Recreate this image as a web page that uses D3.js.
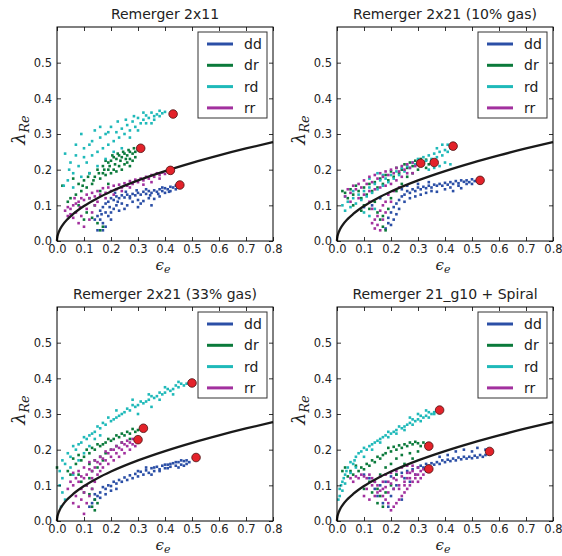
<!DOCTYPE html>
<html><head><meta charset="utf-8">
<script src="https://cdn.jsdelivr.net/npm/d3@7"></script>
<style>
body{margin:0;background:#fff;}
svg{display:block;font-family:"DejaVu Sans",sans-serif;}
</style></head><body>
<svg id="chart" width="562" height="556"></svg>
<script>
// ---------- data ----------
const titles = ["Remerger 2x11", "Remerger 2x21 (10% gas)", "Remerger 2x21 (33% gas)", "Remerger 21_g10 + Spiral"];
const seriesNames = ["dd", "dr", "rd", "rr"];
const seriesColors = ["#2b4fa6", "#0b7a3b", "#1fb9b9", "#a2309e"];
const xTicks = [0.0, 0.1, 0.2, 0.3, 0.4, 0.5, 0.6, 0.7, 0.8];
const yTicks = [0.0, 0.1, 0.2, 0.3, 0.4, 0.5];

// boundary curve (epsilon, lambda)
const curveEps = [0, 0.0002, 0.001, 0.003, 0.006, 0.01, 0.02, 0.04, 0.06, 0.1, 0.15, 0.2, 0.3, 0.4, 0.5, 0.6, 0.7, 0.8];
const curveLam = [0, 0.0044, 0.0098, 0.0170, 0.0240, 0.031, 0.0438, 0.062, 0.0759, 0.098, 0.120, 0.1386, 0.1698, 0.196, 0.2192, 0.2401, 0.2594, 0.2773];

// end points (red) per panel, order dd, dr, rd, rr
const endEps = [[0.455, 0.31, 0.43, 0.42], [0.53, 0.36, 0.43, 0.31], [0.515, 0.32, 0.50, 0.30], [0.565, 0.34, 0.38, 0.34]];
const endLam = [[0.157, 0.260, 0.356, 0.198], [0.170, 0.220, 0.266, 0.218], [0.178, 0.260, 0.387, 0.228], [0.195, 0.210, 0.311, 0.146]];

// Panel 1: Remerger 2x11
const p1_dd = [[0.44,0.155],[0.43,0.15],[0.42,0.152],[0.41,0.145],[0.40,0.148],[0.39,0.14],[0.38,0.145],[0.37,0.138],[0.36,0.142],[0.35,0.135],[0.34,0.14],[0.33,0.132],[0.32,0.138],[0.31,0.13],[0.30,0.135],[0.29,0.128],[0.28,0.132],[0.27,0.125],[0.26,0.13],[0.25,0.122],[0.24,0.128],[0.23,0.12],[0.22,0.125],[0.21,0.115],[0.20,0.12],[0.19,0.11],[0.18,0.105],[0.17,0.095],[0.16,0.085],[0.15,0.07],[0.16,0.06],[0.17,0.05],[0.18,0.04],[0.15,0.03],[0.17,0.03],[0.19,0.07],[0.20,0.08],[0.21,0.09],[0.22,0.10],[0.24,0.105],[0.26,0.10],[0.28,0.11],[0.30,0.115],[0.32,0.112],[0.34,0.12],[0.36,0.118],[0.38,0.125],[0.40,0.135],[0.42,0.14],[0.44,0.145],[0.23,0.085],[0.25,0.09],[0.20,0.06],[0.18,0.08],[0.14,0.06],[0.35,0.10],[0.30,0.095],[0.27,0.12],[0.33,0.145],[0.39,0.15],[0.215,0.135],[0.255,0.138],[0.295,0.142],[0.345,0.128],[0.375,0.132],[0.415,0.138],[0.195,0.095],[0.165,0.075],[0.225,0.11],[0.31,0.105]];
const p1_dr = [[0.30,0.255],[0.29,0.25],[0.28,0.245],[0.27,0.25],[0.26,0.24],[0.25,0.245],[0.24,0.235],[0.23,0.24],[0.22,0.23],[0.21,0.235],[0.20,0.225],[0.19,0.22],[0.18,0.225],[0.17,0.21],[0.29,0.235],[0.28,0.225],[0.27,0.23],[0.26,0.22],[0.25,0.215],[0.24,0.20],[0.23,0.21],[0.22,0.195],[0.21,0.20],[0.20,0.19],[0.19,0.20],[0.18,0.185],[0.17,0.19],[0.16,0.175],[0.15,0.20],[0.14,0.18],[0.13,0.16],[0.12,0.19],[0.11,0.15],[0.10,0.17],[0.09,0.14],[0.08,0.16],[0.07,0.13],[0.06,0.175],[0.05,0.12],[0.04,0.11],[0.02,0.155],[0.12,0.12],[0.14,0.10],[0.11,0.08],[0.13,0.065],[0.15,0.05],[0.16,0.03],[0.17,0.04],[0.10,0.06],[0.27,0.21],[0.285,0.26],[0.265,0.255],[0.245,0.25],[0.225,0.245],[0.205,0.24],[0.16,0.14],[0.19,0.16],[0.08,0.10],[0.215,0.215],[0.235,0.225],[0.255,0.23],[0.195,0.21],[0.175,0.2],[0.155,0.19],[0.135,0.17],[0.115,0.18],[0.095,0.155]];
const p1_rd = [[0.40,0.362],[0.39,0.358],[0.38,0.365],[0.37,0.355],[0.36,0.350],[0.35,0.36],[0.34,0.345],[0.33,0.352],[0.32,0.34],[0.31,0.33],[0.30,0.345],[0.29,0.32],[0.28,0.335],[0.27,0.31],[0.26,0.325],[0.25,0.30],[0.24,0.315],[0.23,0.29],[0.22,0.305],[0.21,0.28],[0.20,0.32],[0.19,0.27],[0.18,0.30],[0.17,0.26],[0.16,0.29],[0.15,0.25],[0.14,0.31],[0.13,0.24],[0.12,0.27],[0.11,0.22],[0.10,0.26],[0.09,0.30],[0.08,0.21],[0.07,0.24],[0.06,0.19],[0.05,0.22],[0.04,0.17],[0.03,0.245],[0.025,0.155],[0.06,0.15],[0.09,0.18],[0.12,0.19],[0.15,0.21],[0.18,0.23],[0.21,0.25],[0.24,0.26],[0.27,0.29],[0.30,0.31],[0.33,0.33],[0.36,0.34],[0.38,0.35],[0.35,0.33],[0.32,0.36],[0.285,0.35],[0.255,0.34],[0.225,0.335],[0.19,0.305],[0.16,0.32],[0.13,0.28],[0.10,0.235],[0.07,0.27],[0.045,0.2]];
const p1_rr = [[0.41,0.195],[0.40,0.188],[0.39,0.192],[0.38,0.185],[0.37,0.19],[0.36,0.18],[0.35,0.185],[0.34,0.175],[0.33,0.18],[0.32,0.17],[0.31,0.175],[0.30,0.165],[0.29,0.172],[0.28,0.16],[0.27,0.168],[0.26,0.155],[0.25,0.162],[0.24,0.15],[0.23,0.158],[0.22,0.145],[0.21,0.155],[0.20,0.14],[0.19,0.15],[0.18,0.135],[0.17,0.148],[0.16,0.13],[0.15,0.14],[0.14,0.125],[0.13,0.135],[0.12,0.12],[0.11,0.13],[0.10,0.115],[0.09,0.12],[0.08,0.11],[0.07,0.105],[0.06,0.10],[0.05,0.09],[0.04,0.095],[0.03,0.085],[0.04,0.07],[0.06,0.065],[0.07,0.08],[0.08,0.05],[0.09,0.07],[0.10,0.04],[0.11,0.09],[0.12,0.06],[0.13,0.08],[0.14,0.10],[0.15,0.11],[0.35,0.165],[0.32,0.158],[0.38,0.175],[0.27,0.15],[0.24,0.14],[0.21,0.13],[0.18,0.12],[0.085,0.095],[0.065,0.12],[0.05,0.075]];

// Panel 2: Remerger 2x21 (10% gas)
const p2_dd = [[0.52,0.172],[0.51,0.168],[0.50,0.173],[0.49,0.165],[0.48,0.17],[0.47,0.166],[0.46,0.17],[0.45,0.162],[0.44,0.168],[0.43,0.16],[0.42,0.165],[0.41,0.158],[0.40,0.163],[0.39,0.155],[0.38,0.16],[0.37,0.155],[0.36,0.158],[0.35,0.15],[0.34,0.155],[0.33,0.148],[0.32,0.152],[0.31,0.145],[0.30,0.15],[0.29,0.14],[0.28,0.145],[0.27,0.135],[0.26,0.14],[0.25,0.13],[0.24,0.125],[0.23,0.115],[0.22,0.105],[0.21,0.095],[0.20,0.08],[0.19,0.065],[0.19,0.05],[0.18,0.035],[0.20,0.045],[0.21,0.06],[0.22,0.075],[0.23,0.09],[0.25,0.11],[0.27,0.12],[0.29,0.125],[0.31,0.13],[0.33,0.135],[0.35,0.14],[0.37,0.138],[0.40,0.145],[0.42,0.15],[0.45,0.155],[0.48,0.16],[0.50,0.16],[0.30,0.16],[0.34,0.165],[0.26,0.155],[0.24,0.145],[0.10,0.095],[0.13,0.10],[0.16,0.12],[0.43,0.14],[0.46,0.148]];
const p2_dr = [[0.35,0.225],[0.34,0.215],[0.33,0.228],[0.32,0.22],[0.31,0.23],[0.30,0.215],[0.29,0.225],[0.28,0.21],[0.27,0.22],[0.26,0.205],[0.25,0.215],[0.24,0.20],[0.23,0.19],[0.22,0.205],[0.21,0.18],[0.20,0.195],[0.19,0.17],[0.18,0.185],[0.17,0.16],[0.16,0.175],[0.15,0.15],[0.14,0.165],[0.13,0.14],[0.12,0.16],[0.11,0.13],[0.10,0.15],[0.09,0.12],[0.08,0.14],[0.07,0.155],[0.06,0.13],[0.05,0.145],[0.04,0.12],[0.03,0.135],[0.02,0.14],[0.10,0.10],[0.12,0.09],[0.14,0.11],[0.15,0.08],[0.16,0.06],[0.17,0.04],[0.18,0.03],[0.17,0.07],[0.19,0.09],[0.20,0.12],[0.22,0.14],[0.24,0.16],[0.26,0.18],[0.30,0.20],[0.33,0.205],[0.28,0.19],[0.06,0.10],[0.09,0.085]];
const p2_rd = [[0.42,0.26],[0.41,0.25],[0.40,0.255],[0.39,0.24],[0.38,0.25],[0.37,0.235],[0.36,0.245],[0.35,0.23],[0.34,0.24],[0.33,0.225],[0.32,0.235],[0.31,0.22],[0.30,0.23],[0.29,0.215],[0.28,0.22],[0.27,0.205],[0.26,0.21],[0.25,0.195],[0.24,0.205],[0.23,0.185],[0.22,0.195],[0.21,0.175],[0.20,0.185],[0.19,0.165],[0.18,0.175],[0.17,0.155],[0.16,0.17],[0.15,0.145],[0.14,0.16],[0.13,0.135],[0.12,0.15],[0.11,0.125],[0.10,0.14],[0.09,0.115],[0.08,0.13],[0.07,0.105],[0.06,0.12],[0.05,0.095],[0.04,0.11],[0.03,0.085],[0.02,0.10],[0.03,0.125],[0.06,0.14],[0.10,0.08],[0.12,0.07],[0.14,0.09],[0.40,0.22],[0.42,0.215],[0.38,0.21],[0.36,0.205],[0.34,0.20],[0.15,0.19],[0.17,0.185],[0.12,0.175],[0.39,0.27],[0.41,0.27],[0.37,0.26]];
const p2_rr = [[0.30,0.215],[0.29,0.21],[0.28,0.22],[0.27,0.205],[0.26,0.215],[0.25,0.2],[0.24,0.21],[0.23,0.195],[0.22,0.205],[0.21,0.19],[0.20,0.2],[0.19,0.185],[0.18,0.195],[0.17,0.18],[0.16,0.19],[0.15,0.175],[0.14,0.185],[0.13,0.165],[0.12,0.18],[0.11,0.16],[0.10,0.17],[0.09,0.15],[0.08,0.16],[0.07,0.145],[0.06,0.155],[0.05,0.135],[0.04,0.145],[0.03,0.125],[0.05,0.11],[0.08,0.12],[0.10,0.13],[0.12,0.14],[0.14,0.145],[0.16,0.15],[0.18,0.155],[0.20,0.16],[0.22,0.17],[0.24,0.18],[0.26,0.19],[0.28,0.19],[0.19,0.13],[0.18,0.11],[0.17,0.10],[0.16,0.085],[0.15,0.07],[0.14,0.06],[0.15,0.045],[0.16,0.03],[0.14,0.035],[0.13,0.05],[0.17,0.06],[0.18,0.08],[0.20,0.11],[0.21,0.14],[0.23,0.15],[0.13,0.09],[0.12,0.11]];

// Panel 3: Remerger 2x21 (33% gas)
const p3_dd = [[0.49,0.165],[0.48,0.16],[0.47,0.168],[0.46,0.158],[0.45,0.165],[0.44,0.155],[0.43,0.162],[0.42,0.152],[0.41,0.158],[0.40,0.148],[0.39,0.155],[0.38,0.145],[0.37,0.152],[0.36,0.14],[0.35,0.148],[0.34,0.135],[0.33,0.142],[0.32,0.13],[0.31,0.138],[0.30,0.125],[0.29,0.132],[0.28,0.12],[0.27,0.128],[0.26,0.115],[0.25,0.122],[0.24,0.11],[0.23,0.115],[0.22,0.105],[0.21,0.11],[0.20,0.098],[0.19,0.1],[0.18,0.09],[0.17,0.095],[0.16,0.08],[0.15,0.07],[0.14,0.06],[0.13,0.05],[0.12,0.04],[0.14,0.075],[0.16,0.065],[0.18,0.075],[0.20,0.085],[0.22,0.09],[0.48,0.17],[0.46,0.17],[0.44,0.165],[0.42,0.16],[0.40,0.158],[0.36,0.15],[0.33,0.15],[0.30,0.14],[0.35,0.13],[0.38,0.14],[0.41,0.148],[0.45,0.15],[0.47,0.155]];
const p3_dr = [[0.30,0.255],[0.29,0.25],[0.28,0.258],[0.27,0.245],[0.26,0.25],[0.25,0.24],[0.24,0.245],[0.23,0.235],[0.22,0.24],[0.21,0.23],[0.20,0.225],[0.19,0.23],[0.18,0.22],[0.17,0.215],[0.16,0.21],[0.15,0.215],[0.14,0.2],[0.13,0.205],[0.12,0.19],[0.11,0.2],[0.10,0.18],[0.09,0.17],[0.08,0.185],[0.07,0.16],[0.06,0.175],[0.05,0.13],[0.04,0.14],[0.0,0.15],[0.12,0.16],[0.14,0.17],[0.16,0.18],[0.18,0.19],[0.20,0.2],[0.22,0.21],[0.13,0.14],[0.12,0.12],[0.11,0.1],[0.13,0.09],[0.12,0.075],[0.14,0.06],[0.13,0.04],[0.14,0.03],[0.15,0.05],[0.10,0.08],[0.09,0.11],[0.08,0.13],[0.15,0.15],[0.17,0.17],[0.24,0.22],[0.27,0.23]];
const p3_rd = [[0.49,0.39],[0.48,0.385],[0.47,0.38],[0.46,0.385],[0.45,0.375],[0.44,0.38],[0.43,0.37],[0.42,0.365],[0.41,0.37],[0.40,0.36],[0.39,0.355],[0.38,0.36],[0.37,0.35],[0.36,0.345],[0.35,0.35],[0.34,0.34],[0.33,0.335],[0.32,0.33],[0.31,0.335],[0.30,0.325],[0.29,0.32],[0.28,0.325],[0.27,0.31],[0.26,0.315],[0.25,0.305],[0.24,0.3],[0.23,0.295],[0.22,0.29],[0.21,0.285],[0.20,0.28],[0.19,0.29],[0.18,0.27],[0.17,0.275],[0.16,0.26],[0.15,0.265],[0.14,0.25],[0.13,0.245],[0.12,0.24],[0.11,0.23],[0.10,0.235],[0.09,0.22],[0.08,0.215],[0.07,0.2],[0.06,0.21],[0.05,0.18],[0.04,0.19],[0.03,0.16],[0.02,0.17],[0.01,0.14],[0.02,0.12],[0.01,0.1],[0.02,0.08],[0.03,0.06],[0.015,0.04],[0.05,0.15],[0.06,0.13],[0.08,0.17],[0.10,0.19],[0.12,0.21],[0.14,0.23],[0.16,0.24],[0.30,0.3],[0.35,0.32],[0.22,0.31],[0.28,0.34],[0.34,0.355],[0.40,0.375],[0.45,0.39],[0.38,0.34],[0.43,0.355]];
const p3_rr = [[0.29,0.225],[0.28,0.215],[0.27,0.22],[0.26,0.21],[0.25,0.215],[0.24,0.2],[0.23,0.205],[0.22,0.19],[0.21,0.2],[0.20,0.18],[0.19,0.19],[0.18,0.17],[0.17,0.175],[0.16,0.16],[0.15,0.165],[0.14,0.15],[0.13,0.14],[0.12,0.145],[0.11,0.13],[0.10,0.12],[0.09,0.125],[0.08,0.11],[0.07,0.12],[0.06,0.1],[0.05,0.11],[0.04,0.09],[0.06,0.135],[0.08,0.14],[0.10,0.15],[0.12,0.165],[0.14,0.17],[0.16,0.18],[0.18,0.195],[0.20,0.2],[0.22,0.21],[0.24,0.22],[0.26,0.225],[0.28,0.23],[0.27,0.2],[0.25,0.19],[0.23,0.18],[0.21,0.17],[0.19,0.16],[0.17,0.15],[0.15,0.13],[0.13,0.12],[0.11,0.1],[0.10,0.08],[0.09,0.06],[0.08,0.04],[0.10,0.02],[0.11,0.05],[0.12,0.07],[0.07,0.07],[0.06,0.05],[0.13,0.09],[0.09,0.09],[0.14,0.11],[0.16,0.14],[0.29,0.21]];

// Panel 4: Remerger 21_g10 + Spiral
const p4_dd = [[0.55,0.185],[0.54,0.18],[0.53,0.185],[0.52,0.178],[0.51,0.183],[0.50,0.176],[0.49,0.18],[0.48,0.175],[0.47,0.18],[0.46,0.173],[0.45,0.178],[0.44,0.17],[0.43,0.175],[0.42,0.168],[0.41,0.172],[0.40,0.165],[0.39,0.17],[0.38,0.16],[0.37,0.165],[0.36,0.158],[0.35,0.162],[0.34,0.155],[0.33,0.16],[0.32,0.15],[0.31,0.155],[0.30,0.15],[0.28,0.145],[0.26,0.14],[0.24,0.135],[0.22,0.13],[0.20,0.125],[0.55,0.2],[0.52,0.205],[0.50,0.195],[0.47,0.2],[0.44,0.195],[0.41,0.185],[0.38,0.18],[0.56,0.19],[0.18,0.11],[0.16,0.1],[0.14,0.09],[0.12,0.12],[0.10,0.13],[0.15,0.07],[0.17,0.05],[0.20,0.07],[0.22,0.1],[0.25,0.12],[0.27,0.11],[0.29,0.13],[0.33,0.14],[0.24,0.06],[0.19,0.04],[0.21,0.09]];
const p4_dr = [[0.33,0.215],[0.32,0.22],[0.31,0.21],[0.30,0.218],[0.29,0.222],[0.28,0.215],[0.27,0.22],[0.26,0.21],[0.25,0.215],[0.24,0.205],[0.23,0.212],[0.22,0.2],[0.21,0.208],[0.20,0.195],[0.19,0.205],[0.18,0.19],[0.17,0.185],[0.16,0.175],[0.15,0.18],[0.14,0.165],[0.13,0.17],[0.12,0.155],[0.11,0.16],[0.10,0.145],[0.09,0.15],[0.08,0.14],[0.07,0.155],[0.06,0.13],[0.05,0.14],[0.04,0.125],[0.03,0.15],[0.02,0.14],[0.30,0.195],[0.27,0.19],[0.24,0.185],[0.22,0.175],[0.20,0.16],[0.18,0.15],[0.16,0.13],[0.14,0.11],[0.15,0.09],[0.16,0.07],[0.15,0.05],[0.17,0.04],[0.18,0.08],[0.20,0.1],[0.22,0.13],[0.12,0.11],[0.13,0.08],[0.10,0.09],[0.25,0.16],[0.28,0.175]];
const p4_rd = [[0.37,0.31],[0.36,0.305],[0.35,0.3],[0.34,0.305],[0.33,0.295],[0.32,0.29],[0.31,0.295],[0.30,0.285],[0.29,0.28],[0.28,0.285],[0.27,0.275],[0.26,0.27],[0.25,0.265],[0.24,0.26],[0.23,0.265],[0.22,0.255],[0.21,0.25],[0.20,0.245],[0.19,0.25],[0.18,0.24],[0.17,0.235],[0.16,0.23],[0.15,0.225],[0.14,0.22],[0.13,0.215],[0.12,0.21],[0.11,0.2],[0.10,0.205],[0.09,0.195],[0.08,0.19],[0.07,0.18],[0.065,0.17],[0.06,0.16],[0.05,0.165],[0.04,0.15],[0.035,0.14],[0.03,0.13],[0.025,0.12],[0.02,0.11],[0.015,0.1],[0.01,0.09],[0.01,0.07],[0.005,0.06],[0.02,0.085],[0.03,0.105],[0.05,0.135],[0.07,0.15],[0.10,0.18],[0.13,0.2],[0.16,0.22],[0.19,0.235],[0.22,0.245],[0.25,0.255],[0.28,0.27],[0.31,0.28],[0.34,0.29],[0.36,0.3],[0.33,0.31],[0.30,0.3],[0.27,0.29]];
const p4_rr = [[0.33,0.15],[0.32,0.145],[0.31,0.14],[0.30,0.15],[0.29,0.13],[0.28,0.14],[0.27,0.12],[0.26,0.135],[0.25,0.11],[0.24,0.125],[0.23,0.1],[0.22,0.115],[0.21,0.09],[0.20,0.105],[0.19,0.08],[0.18,0.095],[0.17,0.07],[0.16,0.085],[0.15,0.1],[0.14,0.11],[0.13,0.12],[0.12,0.13],[0.11,0.12],[0.10,0.125],[0.09,0.13],[0.08,0.12],[0.07,0.125],[0.06,0.11],[0.05,0.12],[0.2,0.03],[0.21,0.04],[0.22,0.05],[0.19,0.05],[0.23,0.06],[0.24,0.07],[0.25,0.08],[0.26,0.09],[0.27,0.1],[0.28,0.11],[0.29,0.12],[0.30,0.13],[0.31,0.12],[0.32,0.13],[0.22,0.14],[0.2,0.135],[0.18,0.13],[0.16,0.125],[0.24,0.15],[0.26,0.155],[0.28,0.155],[0.18,0.06],[0.17,0.09],[0.15,0.08],[0.13,0.1],[0.11,0.09],[0.1,0.07],[0.12,0.06],[0.23,0.09],[0.25,0.1],[0.21,0.12],[0.19,0.11],[0.27,0.135],[0.17,0.11],[0.14,0.07],[0.26,0.12],[0.3,0.11]];

const panelSeries = [
  [p1_dd, p1_dr, p1_rd, p1_rr],
  [p2_dd, p2_dr, p2_rd, p2_rr],
  [p3_dd, p3_dr, p3_rd, p3_rr],
  [p4_dd, p4_dr, p4_rd, p4_rr]
];

// ---------- layout ----------
const panelX = [57, 337, 57, 337];
const panelY = [27, 27, 307, 307];
const PW = 216, PH = 214;

const svg = d3.select("#chart");
const x = d3.scaleLinear().domain([0, 0.8]).range([0, PW]);
const y = d3.scaleLinear().domain([0, 0.6]).range([PH, 0]);
const fmt = d3.format(".1f");

titles.forEach((title, p) => {
  const g = svg.append("g").attr("transform", `translate(${panelX[p]},${panelY[p]})`);

  // scatter points
  panelSeries[p].forEach((pts, s) => {
    g.append("g").selectAll("rect").data(pts).join("rect")
      .attr("x", d => x(d[0]) - 1.3).attr("y", d => y(d[1]) - 1.3)
      .attr("width", 2.6).attr("height", 2.6)
      .attr("fill", seriesColors[s]);
  });

  // boundary curve
  const line = d3.line().x(d => x(d[0])).y(d => y(d[1])).curve(d3.curveMonotoneX);
  g.append("path").datum(curveEps.map((e, i) => [e, curveLam[i]]))
    .attr("d", line).attr("fill", "none").attr("stroke", "#1a1a1a").attr("stroke-width", 2.3);

  // end points
  g.append("g").selectAll("circle").data(endEps[p].map((e, i) => [e, endLam[p][i]])).join("circle")
    .attr("cx", d => x(d[0])).attr("cy", d => y(d[1])).attr("r", 4.3)
    .attr("fill", "#e3222a").attr("stroke", "#4a1010").attr("stroke-width", 0.8);

  // axes (inward ticks on all sides)
  const axB = g.append("g").attr("transform", `translate(0,${PH})`)
    .call(d3.axisBottom(x).tickValues(xTicks).tickFormat(fmt).tickSize(-4).tickPadding(4));
  const axT = g.append("g")
    .call(d3.axisTop(x).tickValues(xTicks).tickFormat("").tickSize(-4));
  const axL = g.append("g")
    .call(d3.axisLeft(y).tickValues(yTicks).tickFormat(fmt).tickSize(-4).tickPadding(5));
  const axR = g.append("g").attr("transform", `translate(${PW},0)`)
    .call(d3.axisRight(y).tickValues(yTicks).tickFormat("").tickSize(-4));
  [axB, axT, axL, axR].forEach(a => {
    a.select(".domain").remove();
    a.selectAll("line").attr("stroke", "#000").attr("stroke-width", 0.8);
    a.selectAll("text").attr("font-family", "DejaVu Sans").attr("font-size", 11.5).attr("fill", "#222");
  });

  // frame
  g.append("rect").attr("width", PW).attr("height", PH)
    .attr("fill", "none").attr("stroke", "#000").attr("stroke-width", 1);

  // legend
  const lg = g.append("g").attr("transform", "translate(141,5)");
  lg.append("rect").attr("width", 69).attr("height", 86)
    .attr("fill", "#fff").attr("stroke", "#333").attr("stroke-width", 1);
  seriesNames.forEach((n, i) => {
    const yy = 12 + i * 21.3;
    lg.append("line").attr("x1", 9).attr("x2", 35).attr("y1", yy).attr("y2", yy)
      .attr("stroke", seriesColors[i]).attr("stroke-width", 3);
    lg.append("text").attr("x", 46).attr("y", yy + 5).text(n)
      .attr("font-size", 14).attr("fill", "#222");
  });

  // title
  g.append("text").attr("x", PW / 2).attr("y", -8).attr("text-anchor", "middle")
    .attr("font-size", 14).attr("fill", "#222").text(title);

  // axis labels
  const yl = g.append("text").attr("transform", `translate(-32,${PH / 2 - 4}) rotate(-90)`)
    .attr("text-anchor", "middle").attr("fill", "#222");
  yl.append("tspan").attr("font-size", 19).attr("font-family", "DejaVu Serif").attr("font-style", "italic").text("λ");
  yl.append("tspan").attr("font-size", 13).attr("font-family", "DejaVu Serif").attr("font-style", "italic").attr("dy", 4).text("Re");

  const xl = g.append("text").attr("x", PW / 2 - 2).attr("y", PH + 29).attr("text-anchor", "middle").attr("fill", "#222");
  xl.append("tspan").attr("font-size", 15).attr("font-family", "DejaVu Serif").attr("font-style", "italic").text("ϵ");
  xl.append("tspan").attr("font-size", 11).attr("font-family", "DejaVu Serif").attr("font-style", "italic").attr("dy", 3).text("e");
});
</script>
</body></html>
